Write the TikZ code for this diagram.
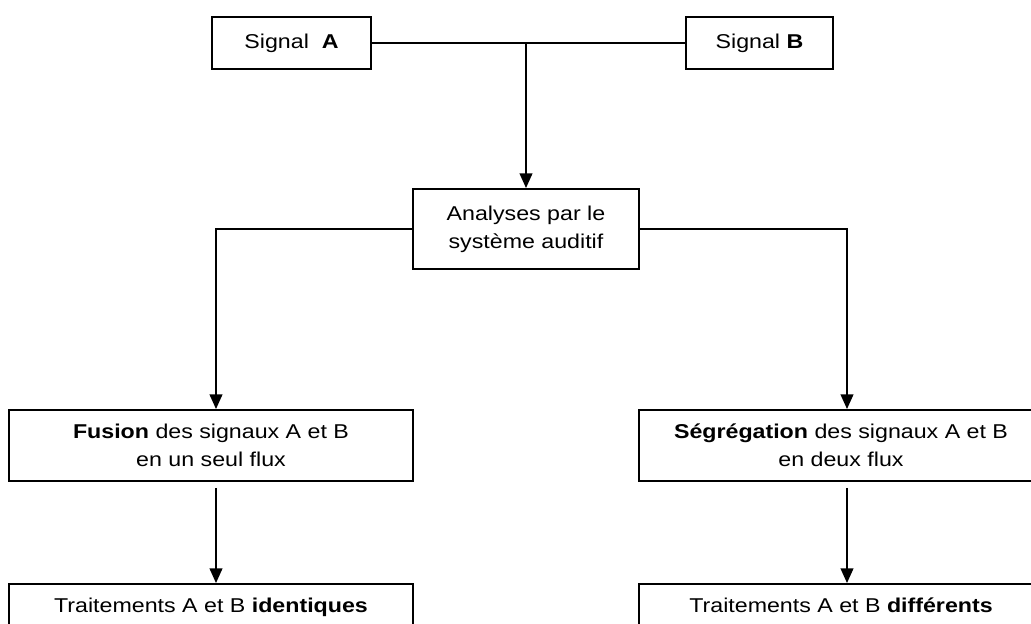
\documentclass[tikz,border=0pt]{standalone}
\usepackage{fontspec}
\setmainfont[FakeStretch=1.16]{Liberation Sans}
\usetikzlibrary{arrows.meta}
\begin{document}
\begin{tikzpicture}[x=0.75pt,y=-0.75pt,
  box/.style={draw, line width=1.4pt, inner sep=0pt, align=center,
    font=\fontsize{15}{21}\selectfont},
  conn/.style={line width=1.4pt},
  arr/.style={conn, -{Triangle[length=11pt,width=9.5pt]}}]
\clip (0,0) rectangle (1031,624);
\fill[white] (0,0) rectangle (1031,624);
\node[box, minimum width=119.25pt, minimum height=39pt] (sa) at (291.5,43) {Signal\ \ \textbf{A}};
\node[box, minimum width=110.25pt, minimum height=39pt] (sb) at (759.5,43) {Signal \textbf{B}};
\node[box, minimum width=169.5pt, minimum height=60pt] (an) at (526,229) {Analyses par le\\système auditif};
\node[box, minimum width=303pt, minimum height=53.25pt] (fu) at (211,445.5) {\textbf{Fusion} des signaux A et B\\en un seul flux};
\node[box, minimum width=303pt, minimum height=53.25pt] (se) at (841,445.5) {\textbf{Ségrégation} des signaux A et B\\en deux flux};
\node[box, minimum width=303pt, minimum height=53.25pt] (tl) at (211,619.5) {Traitements A et B \textbf{identiques}\\\mbox{}};
\node[box, minimum width=303pt, minimum height=53.25pt] (tr) at (841,619.5) {Traitements A et B \textbf{différents}\\\mbox{}};
\coordinate (j) at (526,43);
\coordinate (lc) at (216,229);
\coordinate (rc) at (847,229);
\draw[conn] (sa.east) -- (sb.west);
\draw[arr] (j) -- (an.north);
\draw[arr] (an.west) -- (lc) -- (lc |- fu.north);
\draw[arr] (an.east) -- (rc) -- (rc |- se.north);
\draw[arr, shorten <=4.5pt] (lc |- fu.south) -- (lc |- tl.north);
\draw[arr, shorten <=4.5pt] (rc |- se.south) -- (rc |- tr.north);
\end{tikzpicture}
\end{document}
